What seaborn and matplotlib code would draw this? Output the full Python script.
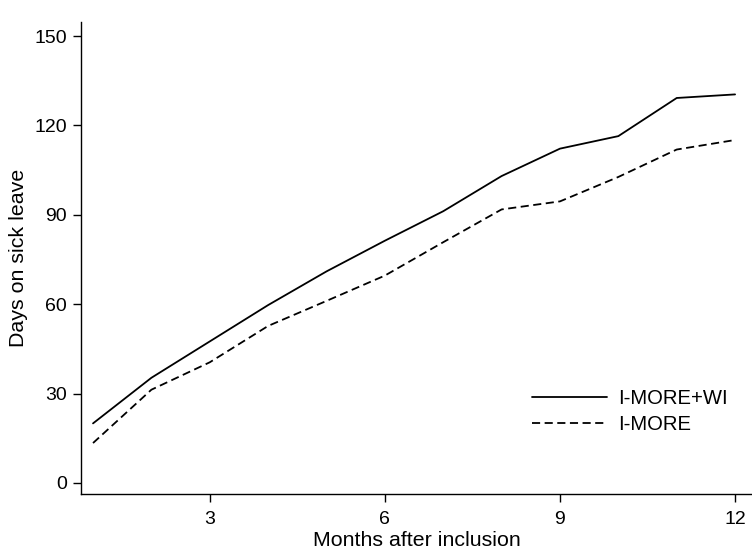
import matplotlib
matplotlib.use("Agg")
import matplotlib.pyplot as plt
import seaborn as sns
import pandas as pd

months = [1, 2, 3, 4, 5, 6, 7, 8, 9, 10, 11, 12]
imore_wi = [20, 35.3, 47.5, 59.7, 71.0, 81.3, 91.2, 103.0, 112.2, 116.4, 129.2, 130.4]
imore = [13.4, 31.3, 40.5, 52.7, 61.1, 69.6, 80.8, 91.8, 94.5, 102.7, 111.9, 115.1]
groups = ["I-MORE+WI", "I-MORE"]

df = pd.DataFrame({
    "month": months * 2,
    "days": imore_wi + imore,
    "group": [groups[0]] * len(months) + [groups[1]] * len(months),
})

sns.set_style("ticks")
plt.rcParams['font.family'] = ['Liberation Sans', 'DejaVu Sans']
plt.rcParams['text.color'] = 'black'
plt.rcParams['axes.labelcolor'] = 'black'

fig = plt.figure(figsize=(7.52, 5.54), dpi=100)
ax = fig.add_axes([81 / 752, 1 - 494 / 554, (752 - 81) / 752, (494 - 22) / 554])

sns.lineplot(data=df, x="month", y="days", style="group", style_order=groups,
             dashes={groups[0]: "", groups[1]: (4.5, 2.5)}, color="black",
             linewidth=1.3, ax=ax)

ax.set_xlim(0.794, 12.29)
ax.set_ylim(-3.7, 154.7)
ax.set_xticks([3, 6, 9, 12])
ax.set_yticks([0, 30, 60, 90, 120, 150])
ax.tick_params(axis="both", labelsize=14, length=6, width=1, colors="black",
               labelcolor="black", pad=4)
ax.tick_params(axis="x", pad=6)
ax.set_xlabel("Months after inclusion", fontsize=15.4, labelpad=2.5, color="black")
ax.set_ylabel("Days on sick leave", fontsize=15.4, labelpad=5, color="black")
for s in ["top", "right"]:
    ax.spines[s].set_visible(False)
for s in ["left", "bottom"]:
    ax.spines[s].set_linewidth(1)
    ax.spines[s].set_color("black")

leg = ax.legend(loc="upper left", bbox_to_anchor=(532 / 752, 1 - 389 / 554),
                bbox_transform=fig.transFigure, borderaxespad=0, borderpad=0,
                frameon=False, fontsize=14.6, handlelength=3.7,
                handletextpad=0.55, labelspacing=0.33)
for t in leg.get_texts():
    t.set_color("black")

fig.savefig("out.png", dpi=100, facecolor="white")
